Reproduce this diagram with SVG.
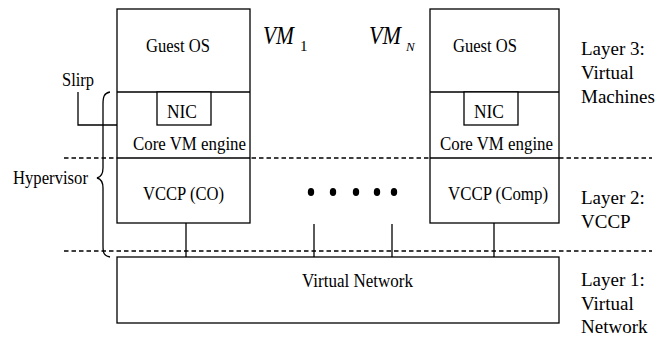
<svg xmlns="http://www.w3.org/2000/svg" width="668" height="337" viewBox="0 0 668 337">
<style>
.box{fill:#fff;stroke:#000;stroke-width:1.3}
.ln{fill:none;stroke:#000;stroke-width:1.3}
.dash{fill:none;stroke:#000;stroke-width:1.3;stroke-dasharray:4.5,3}
.t{font-family:"Liberation Serif","DejaVu Serif","Times New Roman",serif;font-size:19px;fill:#000}
.it{font-style:italic}
</style>
<rect width="668" height="337" fill="#fff"/>
<g id="layer-lines">
<line class="dash" x1="64" y1="158" x2="652" y2="158"/>
<line class="dash" x1="64" y1="251" x2="652" y2="251"/>
</g>
<g id="connectors">
<line class="ln" x1="186" y1="223" x2="186" y2="257"/>
<line class="ln" x1="314" y1="224" x2="314" y2="257"/>
<line class="ln" x1="392" y1="224" x2="392" y2="257"/>
<line class="ln" x1="494" y1="223" x2="494" y2="257"/>
<polyline class="ln" points="78,92 78,125 117,125"/>
</g>
<g id="vm1">
<rect class="box" x="117" y="9" width="133" height="214"/>
<line class="ln" x1="117" y1="92" x2="250" y2="92"/>
<line class="ln" x1="117" y1="158" x2="250" y2="158"/>
<rect class="box" x="157" y="92" width="54" height="33"/>
<text class="t" x="146" y="52" textLength="64" lengthAdjust="spacingAndGlyphs">Guest OS</text>
<text class="t" x="167" y="118" textLength="30" lengthAdjust="spacingAndGlyphs">NIC</text>
<text class="t" x="133" y="150" textLength="113" lengthAdjust="spacingAndGlyphs">Core VM engine</text>
<text class="t" x="143" y="200" textLength="81" lengthAdjust="spacingAndGlyphs">VCCP (CO)</text>
</g>
<g id="vmN">
<rect class="box" x="430" y="9" width="129" height="214"/>
<line class="ln" x1="430" y1="92" x2="559" y2="92"/>
<line class="ln" x1="430" y1="158" x2="559" y2="158"/>
<rect class="box" x="464" y="92" width="54" height="33"/>
<text class="t" x="453" y="52" textLength="64" lengthAdjust="spacingAndGlyphs">Guest OS</text>
<text class="t" x="474" y="118" textLength="30" lengthAdjust="spacingAndGlyphs">NIC</text>
<text class="t" x="440" y="150" textLength="113" lengthAdjust="spacingAndGlyphs">Core VM engine</text>
<text class="t" x="448" y="200" textLength="100" lengthAdjust="spacingAndGlyphs">VCCP (Comp)</text>
</g>
<g id="vnet">
<rect class="box" x="117" y="257" width="442" height="66"/>
<text class="t" x="302" y="287" textLength="111" lengthAdjust="spacingAndGlyphs">Virtual Network</text>
</g>
<g id="vm-labels">
<text class="t it" x="263" y="44" textLength="31" lengthAdjust="spacingAndGlyphs" style="font-size:26px">VM</text>
<text class="t" x="300" y="51" style="font-size:15px">1</text>
<text class="t it" x="369" y="44" textLength="32" lengthAdjust="spacingAndGlyphs" style="font-size:26px">VM</text>
<text class="t it" x="406" y="51" style="font-size:13px">N</text>
</g>
<g id="dots">
<ellipse cx="311" cy="192" rx="3.2" ry="4"/>
<ellipse cx="333" cy="192" rx="3.2" ry="4"/>
<ellipse cx="356" cy="192" rx="3.2" ry="4"/>
<ellipse cx="377" cy="192" rx="3.2" ry="4"/>
<ellipse cx="394" cy="192" rx="3.2" ry="4"/>
</g>
<g id="hypervisor">
<path class="ln" d="M110,92 C104,93 103,97 103,104 L103,168 C103,174 101,177 97,178 C101,179 103,182 103,188 L103,246 C103,253 104,256 110,257"/>
<text class="t" x="13" y="184" textLength="75" lengthAdjust="spacingAndGlyphs">Hypervisor</text>
</g>
<g id="slirp">
<text class="t" x="62" y="86" textLength="32" lengthAdjust="spacingAndGlyphs">Slirp</text>
</g>
<g id="layer-labels">
<text class="t" x="581" y="55">Layer 3:</text>
<text class="t" x="581" y="79">Virtual</text>
<text class="t" x="581" y="103">Machines</text>
<text class="t" x="581" y="204">Layer 2:</text>
<text class="t" x="581" y="228">VCCP</text>
<text class="t" x="581" y="286">Layer 1:</text>
<text class="t" x="581" y="310">Virtual</text>
<text class="t" x="581" y="333">Network</text>
</g>
</svg>
